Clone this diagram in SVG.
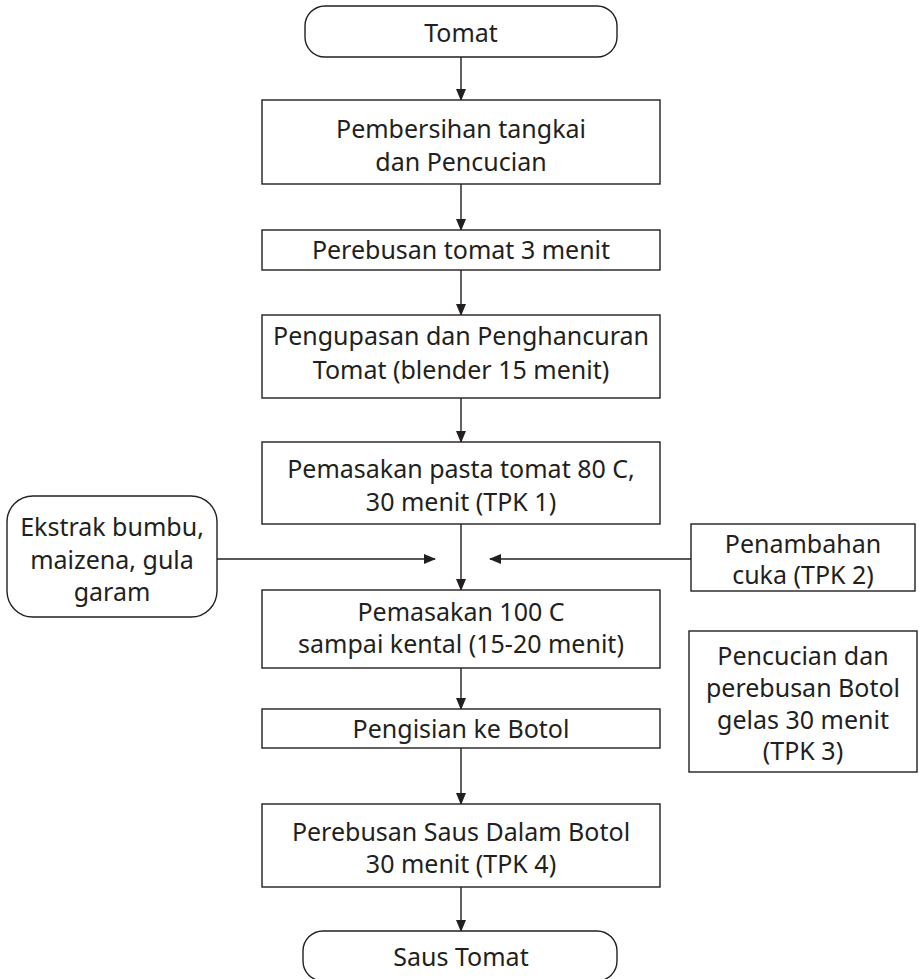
<svg xmlns="http://www.w3.org/2000/svg" width="919" height="979" viewBox="0 0 919 979">
<defs>
<marker id="ah" markerWidth="12" markerHeight="10" refX="11" refY="5" orient="auto" markerUnits="userSpaceOnUse">
<path d="M0,0 L12,5 L0,10 Z" fill="#231f20"/>
</marker>
<style>
.n{fill:#fff;stroke:#231f20;stroke-width:1.4}
.t{font-family:"Noto Sans","Open Sans",sans-serif;font-size:25px;fill:#231f20;text-anchor:middle}
.c{stroke:#231f20;stroke-width:1.4;fill:none;marker-end:url(#ah)}
</style>
</defs>
<rect width="919" height="979" fill="#fff"/>
<g id="connectors">
<line class="c" x1="461" y1="57" x2="461" y2="100"/>
<line class="c" x1="461" y1="184" x2="461" y2="230"/>
<line class="c" x1="461" y1="270" x2="461" y2="315"/>
<line class="c" x1="461" y1="398" x2="461" y2="442"/>
<line class="c" x1="461" y1="524" x2="461" y2="590"/>
<line class="c" x1="217" y1="559" x2="435" y2="559"/>
<line class="c" x1="691" y1="559" x2="490" y2="559"/>
<line class="c" x1="461" y1="668" x2="461" y2="709"/>
<line class="c" x1="461" y1="748" x2="461" y2="804"/>
<line class="c" x1="461" y1="887" x2="461" y2="931"/>
</g>
<g id="n-tomat">
<rect class="n" x="305" y="6" width="312" height="51" rx="20"/>
<text class="t" x="461" y="42">Tomat</text>
</g>
<g id="n-pembersihan">
<rect class="n" x="262" y="100" width="398" height="84"/>
<text class="t" x="461" y="138">Pembersihan tangkai</text>
<text class="t" x="461" y="171">dan Pencucian</text>
</g>
<g id="n-perebusan">
<rect class="n" x="262" y="230" width="398" height="40"/>
<text class="t" x="461" y="259">Perebusan tomat 3 menit</text>
</g>
<g id="n-pengupasan">
<rect class="n" x="262" y="315" width="398" height="83"/>
<text class="t" x="461" y="345">Pengupasan dan Penghancuran</text>
<text class="t" x="461" y="379">Tomat (blender 15 menit)</text>
</g>
<g id="n-pasta">
<rect class="n" x="262" y="442" width="398" height="82"/>
<text class="t" x="461" y="478">Pemasakan pasta tomat 80 C,</text>
<text class="t" x="461" y="511">30 menit (TPK 1)</text>
</g>
<g id="n-ekstrak">
<rect class="n" x="7" y="496" width="210" height="121" rx="26"/>
<text class="t" x="112" y="536">Ekstrak bumbu,</text>
<text class="t" x="112" y="569">maizena, gula</text>
<text class="t" x="112" y="601">garam</text>
</g>
<g id="n-cuka">
<rect class="n" x="691" y="524" width="224" height="67"/>
<text class="t" x="803" y="553">Penambahan</text>
<text class="t" x="803" y="584">cuka (TPK 2)</text>
</g>
<g id="n-pemasakan100">
<rect class="n" x="262" y="590" width="398" height="78"/>
<text class="t" x="461" y="621">Pemasakan 100 C</text>
<text class="t" x="461" y="653">sampai kental (15-20 menit)</text>
</g>
<g id="n-botol-cuci">
<rect class="n" x="689" y="631" width="228" height="141"/>
<text class="t" x="803" y="665">Pencucian dan</text>
<text class="t" x="803" y="697">perebusan Botol</text>
<text class="t" x="803" y="729">gelas 30 menit</text>
<text class="t" x="803" y="760">(TPK 3)</text>
</g>
<g id="n-pengisian">
<rect class="n" x="262" y="709" width="398" height="39"/>
<text class="t" x="461" y="738">Pengisian ke Botol</text>
</g>
<g id="n-perebusan-saus">
<rect class="n" x="262" y="804" width="398" height="83"/>
<text class="t" x="461" y="841">Perebusan Saus Dalam Botol</text>
<text class="t" x="461" y="873">30 menit (TPK 4)</text>
</g>
<g id="n-saus">
<rect class="n" x="303" y="931" width="314" height="50" rx="20"/>
<text class="t" x="461" y="966">Saus Tomat</text>
</g>
</svg>
